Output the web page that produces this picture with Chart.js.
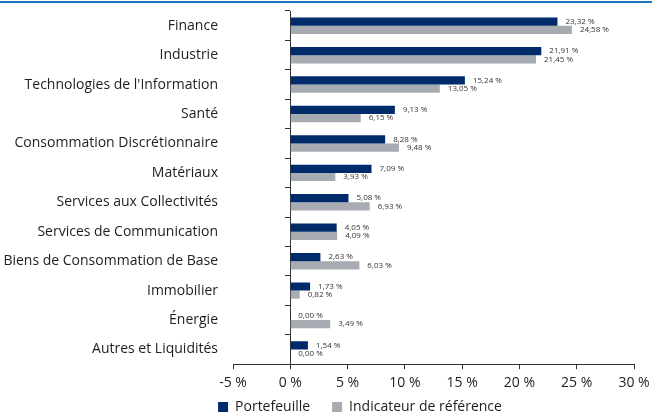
<!DOCTYPE html>
<html>
<head>
<meta charset="utf-8">
<script src="https://cdn.jsdelivr.net/npm/chart.js@4.4.1/dist/chart.umd.min.js"></script>
<style>
  html, body { margin: 0; padding: 0; background: #fff; overflow: hidden; }
  #wrap { position: relative; width: 652px; height: 416px; overflow: hidden; }
  #topline { position: absolute; left: 0; top: 1px; width: 652px; height: 2px; background: #1c75bc; }
</style>
</head>
<body>
<div id="wrap">
  <div id="topline"></div>
  <canvas id="chartjs-0" width="652" height="416"></canvas>
</div>
<script>
// secteurs
var sectors = [
    "Finance",
    "Industrie",
    "Technologies de l'Information",
    "Santé",
    "Consommation Discrétionnaire",
    "Matériaux",
    "Services aux Collectivités",
    "Services de Communication",
    "Biens de Consommation de Base",
    "Immobilier",
    "Énergie",
    "Autres et Liquidités"
];

// poids en %
var portefeuille = [23.32, 21.91, 15.24, 9.13, 8.28, 7.09, 5.08, 4.05, 2.63, 1.73, 0.00, 1.54];
var indicateur   = [24.58, 21.45, 13.05, 6.15, 9.48, 3.93, 6.93, 4.09, 6.03, 0.82, 3.49, 0.00];

// axe x
var xMin = -5, xMax = 30, xStep = 5;

var navy = "#002b6b";
var grey = "#a6acb1";
var textColor = "#1e1e1e";

/* labels next to the bars: "23,32 %" */
var valueLabels = {
    id: "valueLabels",
    afterDatasetsDraw: function (chart) {
        var ctx = chart.ctx;
        ctx.save();
        ctx.font = "8px 'Open Sans'";
        ctx.fillStyle = "#333333";
        ctx.textAlign = "left";
        ctx.textBaseline = "middle";
        chart.data.datasets.forEach(function (ds, di) {
            var meta = chart.getDatasetMeta(di);
            meta.data.forEach(function (bar, i) {
                var txt = ds.data[i].toFixed(2).replace(".", ",") + " %";
                ctx.fillText(txt, bar.x + 8, bar.y);
            });
        });
        ctx.restore();
    }
};

/* move the legend a bit: right of center and up */
var legendShift = {
    id: "legendShift",
    afterLayout: function (chart) {
        var lg = chart.legend;
        lg.left = lg.left + 68;
        lg.top = lg.top - 18;
        lg.bottom = lg.bottom - 18;
    }
};

var ctx = document.getElementById("chartjs-0");

var myChart = new Chart(ctx, {
    type: "bar",
    data: {
        labels: sectors,
        datasets: [{
            label: "Portefeuille",
            data: portefeuille,
            backgroundColor: navy,
            borderWidth: 0,
            yAxisID: "y"
        }, {
            label: "Indicateur de référence",
            data: indicateur,
            backgroundColor: grey,
            borderWidth: 0,
            yAxisID: "y"
        }]
    },
    options: {
        indexAxis: "y",
        responsive: false,
        animation: false,
        maintainAspectRatio: false,
        categoryPercentage: 0.56,
        barPercentage: 1.0,
        layout: {
            padding: { left: 0, right: 0, top: 11, bottom: -26 }
        },
        scales: {
            x: {
                min: xMin,
                max: xMax,
                grid: {
                    drawOnChartArea: false,
                    drawTicks: true,
                    tickLength: 5,
                    color: "#333333"
                },
                border: { display: true, color: "#333333" },
                ticks: {
                    stepSize: xStep,
                    padding: 5,
                    color: textColor,
                    font: { family: "'Open Sans'", size: 14 },
                    callback: function (v) { return v + " %"; }
                },
                afterFit: function (scale) { scale.paddingRight = 18; }
            },
            y: {
                position: "left",
                grid: { display: false, drawTicks: false },
                border: { display: false },
                ticks: {
                    padding: 15,
                    color: textColor,
                    font: { family: "'Open Sans'", size: 14 }
                },
                afterFit: function (scale) {
                    scale.width = 233;
                    scale.paddingTop = 0;
                    scale.paddingBottom = 0;
                }
            },
            y2: {
                type: "category",
                labels: sectors,
                position: { x: 0 },
                grid: {
                    offset: true,
                    drawOnChartArea: false,
                    drawTicks: true,
                    tickLength: 5,
                    color: "#333333"
                },
                border: { display: true, color: "#333333" },
                ticks: { display: false }
            }
        },
        plugins: {
            legend: {
                position: "bottom",
                labels: {
                    boxWidth: 10,
                    boxHeight: 10,
                    padding: 22,
                    color: textColor,
                    font: { family: "'Open Sans'", size: 14 }
                }
            },
            tooltip: { enabled: false }
        }
    },
    plugins: [valueLabels, legendShift]
});
</script>
</body>
</html>
